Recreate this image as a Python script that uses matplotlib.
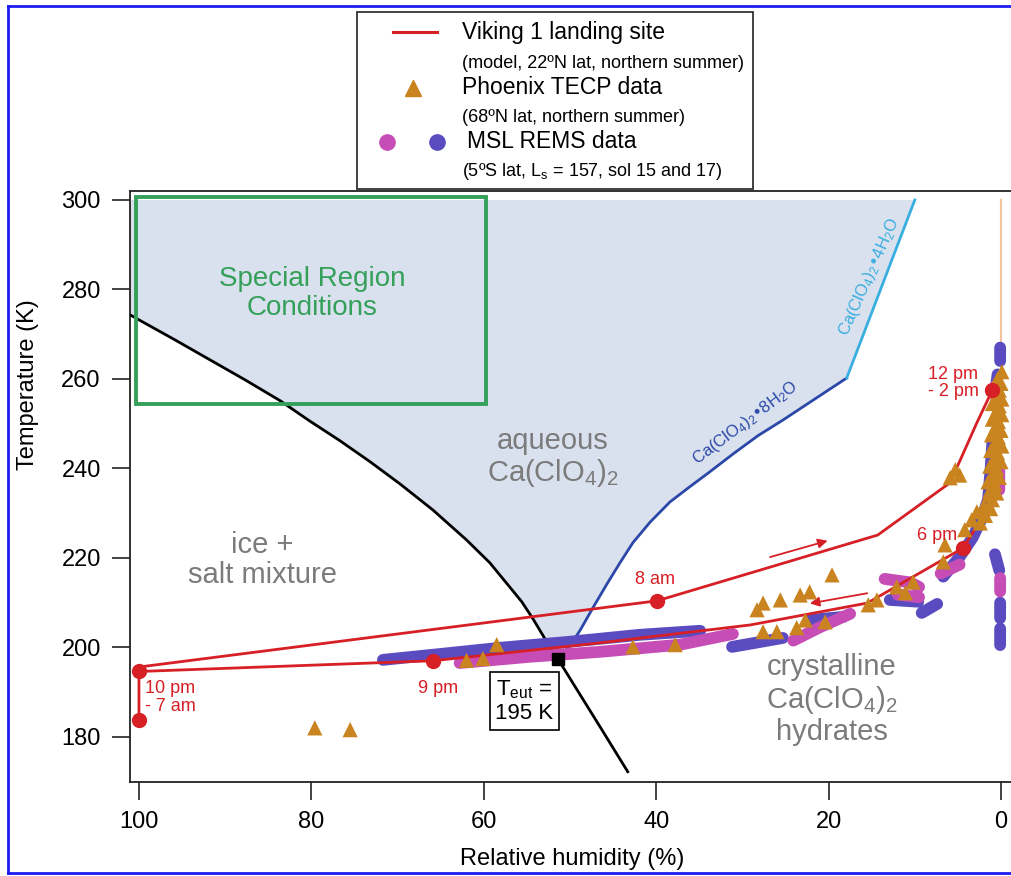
import numpy as np
import matplotlib
matplotlib.use('Agg')
import matplotlib.pyplot as plt
from matplotlib.patches import Rectangle, Polygon
from matplotlib.lines import Line2D

plt.rcParams['font.family'] = ['Liberation Sans', 'DejaVu Sans']
plt.rcParams['mathtext.default'] = 'regular'

# ---------------- data ----------------
ice_rh = [101.1, 100.0, 95.8, 91.8, 87.7, 83.6, 80.2, 76.7, 73.2, 69.7, 65.9, 62.0,
          59.3, 57.0, 55.6, 54.3, 52.9, 51.4, 46.5, 43.3]
ice_t = [274.4, 273.2, 268.7, 264.3, 259.8, 255.1, 250.6, 246.2, 241.5, 236.5, 230.7, 224.0,
         218.9, 213.5, 210.2, 206.4, 201.9, 197.4, 182.2, 172.2]
eut_index = 17
octa_rh = [51.4, 49.9, 48.8, 47.2, 45.7, 44.2, 42.7, 40.7, 38.4, 36.1, 33.8, 31.1, 28.2,
           25.3, 21.6, 17.9]
octa_t = [197.4, 200.6, 203.9, 209.3, 214.2, 218.9, 223.4, 228.0, 232.5, 235.9, 239.2, 243.2,
          247.3, 250.8, 255.5, 260.2]
tetra_rh = [17.9, 10.0]
tetra_t = [260.2, 300.0]
eutectic_rh = [51.4]
eutectic_t = [197.4]
special_rh = [100.4, 59.7]
special_t = [254.3, 300.6]

viking_rh = [100.0, 39.9, 14.3, 5.9, 2.8, 1.0, 0.5, 1.2, 2.5, 4.4, 15.5, 29.1, 46.5, 65.9, 100.0, 100.0]
viking_t = [195.6, 210.4, 225.1, 236.8, 250.2, 257.5, 245.0, 233.0, 228.0, 222.2, 209.9, 205.0, 201.0, 197.0, 194.6, 183.8]
dot_rh = [100.0, 100.0, 39.9, 1.0, 4.4, 65.9]
dot_t = [194.6, 183.8, 210.4, 257.5, 222.2, 197.0]

phx_rh = [79.6, 75.5, 62.0, 60.1, 58.5, 42.7, 37.8, 28.3, 27.6, 25.6, 23.3, 22.2, 19.6,
          27.6, 26.0, 23.7, 22.7, 20.4, 15.4, 14.4, 12.1, 11.1, 10.2, 6.7, 6.5, 4.2, 3.4,
          2.8, 5.9, 4.8, 5.3, -0.1,
          2.4, 1.8, 1.2, 2.0, 1.0, 0.5, 1.3, 0.7, 0.2, 1.0, 0.5, 0.0, 0.8, 0.4, -0.1, 0.7,
          0.3, 0.0, 0.7, 0.3, -0.1, 0.6, 0.2, -0.1, 0.5, 0.2, 0.0, 0.4,
          1.4, 1.5, 1.3, 1.2, 1.1, 1.0, 1.0, 0.9]
phx_t = [182.0, 181.6, 197.1, 197.5, 200.6, 200.1, 200.6, 208.4, 209.9, 210.6, 211.7, 212.4, 216.2,
         203.5, 203.5, 204.4, 206.1, 205.7, 209.5, 210.6, 213.5, 212.2, 214.6, 219.1, 222.9, 226.3, 228.5,
         230.3, 237.9, 238.5, 239.7, 261.6,
         227.8, 229.5, 231.0, 231.5, 233.0, 234.5, 235.0, 236.5, 238.0, 238.5, 240.0, 241.5, 242.0, 243.5, 245.0, 245.5,
         247.0, 248.5, 249.0, 250.5, 252.0, 252.5, 254.0, 255.5, 256.0, 257.5, 259.0, 260.0,
         234.0, 237.0, 240.5, 244.0, 247.5, 251.0, 254.5, 258.0]

nan = np.nan
msl_purple_rh = [71.7, 65.1, 58.1, 50.3, 41.9, 34.9, nan,
                 31.2, 25.3, nan, 22.2, 18.3, nan, 12.9, 9.6, nan, 9.2, 7.4, nan,
                 6.7, 4.8, 3.3, 2.3, 1.5, 1.2, 1.0, nan,
                 0.1, 0.1, nan, 0.4, 0.6, nan, 0.7, 0.2, nan, 0.1, 0.1, nan, 0.1, 0.1]
msl_purple_t = [197.2, 198.5, 199.9, 201.2, 202.8, 203.7, nan,
                200.1, 202.1, nan, 206.1, 206.8, nan, 210.6, 210.2, nan, 207.7, 209.7, nan,
                215.8, 220.2, 224.5, 228.5, 233.0, 240.0, 246.0, nan,
                267.0, 264.0, nan, 261.0, 258.0, nan, 220.8, 217.2, nan, 210.0, 206.5, nan, 204.2, 200.5]
msl_magenta_rh = [62.8, 54.6, 46.5, 37.2, 31.1, nan,
                  24.1, 21.0, 17.5, nan, 13.5, 10.5, 9.5, nan, 12.0, 9.5, nan,
                  7.0, 4.8, nan, 0.1, 0.1, nan, 0.2, 0.2, nan, 0.6, 0.6]
msl_magenta_t = [196.5, 197.9, 199.0, 200.6, 203.0, nan,
                 201.5, 204.5, 207.5, nan, 215.3, 214.5, 213.5, nan, 211.8, 211.2, nan,
                 216.5, 218.5, nan, 215.5, 212.5, nan, 240.3, 235.2, nan, 258.5, 256.0]

xticks = [100, 80, 60, 40, 20, 0]
yticks = [180, 200, 220, 240, 260, 280, 300]

# ---------------- colours ----------------
RED = '#d71f26'
ORANGE = '#c9841f'
PURPLE = '#5a4cc0'
MAGENTA = '#c64db6'
GREEN = '#35a05a'
GREY = '#7b7b7b'
FILL = '#d9e1ee'
OCTA = '#2b48a8'
TETRA = '#39aee0'

W, H = 1011, 876
fig = plt.figure(figsize=(W / 100, H / 100), dpi=100)
ax = fig.add_axes([130 / W, (H - 782) / H, (W - 130) / W, (782 - 191) / H])
ax.set_xlim(101.04, -1.16)
ax.set_ylim(169.9, 302.0)

# aqueous region
fill_rh = [ice_rh[0]] + ice_rh[:eut_index + 1] + octa_rh[1:] + tetra_rh[1:]
fill_t = [300.0] + ice_t[:eut_index + 1] + octa_t[1:] + tetra_t[1:]
ax.add_patch(Polygon(np.column_stack([fill_rh, fill_t]), closed=True,
                     facecolor=FILL, edgecolor='none', zorder=1))

ax.plot(ice_rh, ice_t, color='black', lw=2.0, zorder=3, solid_joinstyle='round')
ax.plot(octa_rh, octa_t, color=OCTA, lw=2.0, zorder=3, solid_joinstyle='round')
ax.plot(tetra_rh, tetra_t, color=TETRA, lw=2.0, zorder=3)
ax.plot([0, 0], [300, 265], color='#f2c49b', lw=1.5, zorder=2)

ax.add_patch(Rectangle((special_rh[1], special_t[0]), special_rh[0] - special_rh[1],
                       special_t[1] - special_t[0], fill=False, edgecolor=GREEN,
                       lw=2.8, zorder=4, clip_on=False))

# MSL REMS data
ax.plot(msl_purple_rh, msl_purple_t, color=PURPLE, lw=8.5, solid_capstyle='round',
        solid_joinstyle='round', zorder=5)
ax.plot(msl_magenta_rh, msl_magenta_t, color=MAGENTA, lw=8.5, solid_capstyle='round',
        solid_joinstyle='round', zorder=5)

# Viking model
ax.plot(viking_rh, viking_t, color=RED, lw=2.0, zorder=6)
ax.annotate('', xy=(19.8, 224.0), xytext=(27.1, 220.0),
            arrowprops=dict(arrowstyle='-|>', color=RED, lw=1.3, mutation_scale=14), zorder=6)
ax.annotate('', xy=(22.5, 209.7), xytext=(15.2, 212.2),
            arrowprops=dict(arrowstyle='-|>', color=RED, lw=1.3, mutation_scale=14), zorder=6)

# Phoenix
ax.scatter(phx_rh, phx_t, marker='^', s=120, color=ORANGE, edgecolors='none', zorder=7)

ax.plot(dot_rh, dot_t, 'o', color=RED, ms=10, zorder=8, clip_on=False)
ax.plot(eutectic_rh, eutectic_t, 's', color='black', ms=9, zorder=9)

# region labels
ax.text(79.9, 279.2, 'Special Region\nConditions', color=GREEN, fontsize=20,
        ha='center', va='center', zorder=10, linespacing=1.15)
ax.text(52.0, 242.3, 'aqueous\nCa(ClO$_4$)$_2$', color=GREY, fontsize=21,
        ha='center', va='center', zorder=10, linespacing=1.1)
ax.text(85.7, 219.6, 'ice +\nsalt mixture', color=GREY, fontsize=21,
        ha='center', va='center', zorder=10, linespacing=1.1)
ax.text(19.6, 188.3, 'crystalline\nCa(ClO$_4$)$_2$\nhydrates', color=GREY, fontsize=21,
        ha='center', va='center', zorder=10, linespacing=1.1)
ax.text(55.3, 188.0, 'T$_{eut}$ =\n195 K', fontsize=16, ha='center', va='center',
        zorder=10, linespacing=1.15,
        bbox=dict(boxstyle='square,pad=0.25', facecolor='white', edgecolor='black', lw=1.2))
ax.text(29.7, 250.2, 'Ca(ClO$_4$)$_2$•8H$_2$O', color=OCTA, fontsize=12,
        rotation=37, ha='center', va='center', zorder=10, rotation_mode='anchor')
ax.text(15.3, 282.7, 'Ca(ClO$_4$)$_2$•4H$_2$O', color=TETRA, fontsize=12,
        rotation=66, ha='center', va='center', zorder=10, rotation_mode='anchor')

# time labels
tk = dict(color=RED, fontsize=13, zorder=10)
ax.text(40.1, 215.1, '8 am', ha='center', va='center', **tk)
ax.text(65.3, 190.9, '9 pm', ha='center', va='center', **tk)
ax.text(99.3, 188.8, '10 pm\n- 7 am', ha='left', va='center', linespacing=1.1, **tk)
ax.text(7.4, 225.1, '6 pm', ha='center', va='center', **tk)
ax.text(8.5, 259.1, '12 pm\n- 2 pm', ha='left', va='center', linespacing=1.05, **tk)

# axes styling
for s in ['left', 'bottom', 'top']:
    ax.spines[s].set_linewidth(1.3)
    ax.spines[s].set_color('#222222')
ax.spines['right'].set_visible(False)
ax.set_xticks(xticks)
ax.set_yticks(yticks)
ax.tick_params(direction='out', length=13, width=1.2, labelsize=17, color='#222222')
ax.tick_params(axis='y', pad=8)
ax.tick_params(axis='x', pad=8)
ax.set_xlabel('Relative humidity (%)', fontsize=17)
ax.set_ylabel('Temperature (K)', fontsize=17)
ax.xaxis.set_label_coords(0.502, -0.112)
ax.yaxis.set_label_coords(-0.1158, 0.672)
ax.yaxis.label.set_va('center')
ax.set_facecolor('white')

# ---------------- legend (figure pixel coords) ----------------
def fx(x):
    return x / W

def fy(y):
    return 1 - y / H

fig.add_artist(Rectangle((fx(357), fy(189)), (753 - 357) / W, (189 - 12) / H,
                         transform=fig.transFigure, facecolor='white',
                         edgecolor='#333333', lw=1.3, zorder=20))
fig.add_artist(Line2D([fx(393), fx(437)], [fy(32), fy(32)], color=RED, lw=2.2, zorder=21))
fig.add_artist(Line2D([fx(413)], [fy(88)], marker='^', color=ORANGE, ms=12, lw=0, zorder=21))
fig.add_artist(Line2D([fx(387)], [fy(142)], marker='o', color=MAGENTA, ms=11, lw=0, zorder=21))
fig.add_artist(Line2D([fx(437)], [fy(142)], marker='o', color=PURPLE, ms=11, lw=0, zorder=21))
lg_big = dict(fontsize=16.5, ha='left', va='center', zorder=22)
lg_small = dict(fontsize=13, ha='left', va='center', zorder=22)
fig.text(fx(462), fy(32), 'Viking 1 landing site', **lg_big)
fig.text(fx(462), fy(63), '(model, 22ºN lat, northern summer)', **lg_small)
fig.text(fx(462), fy(88), 'Phoenix TECP data', **lg_big)
fig.text(fx(462), fy(118), '(68ºN lat, northern summer)', **lg_small)
fig.text(fx(467), fy(142), 'MSL REMS data', **lg_big)
fig.text(fx(462), fy(172), '(5ºS lat, L$_s$ = 157, sol 15 and 17)', **lg_small)

# blue page border
BLUE = '#1c1cf0'
fig.add_artist(Line2D([fx(8), fx(1011)], [fy(6), fy(6)], color=BLUE, lw=2.0, zorder=30))
fig.add_artist(Line2D([fx(8), fx(8)], [fy(6), fy(873)], color=BLUE, lw=2.0, zorder=30))
fig.add_artist(Line2D([fx(8), fx(1011)], [fy(873), fy(873)], color=BLUE, lw=2.0, zorder=30))

fig.savefig('out.png', dpi=100)
